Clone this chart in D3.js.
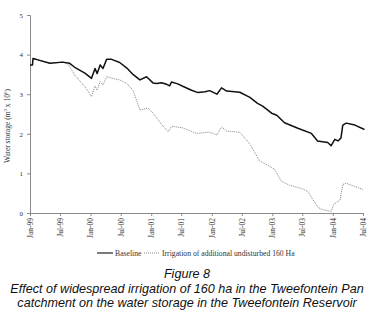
<!DOCTYPE html>
<html>
<head>
<meta charset="utf-8">
<script src="https://cdn.jsdelivr.net/npm/d3@7"></script>
<style>
  body { margin: 0; background: #fff; }
  svg { display: block; }
</style>
</head>
<body>
<div class="figure"></div>
<script>
// water storage (m3 x 10^6)
var baselineDates = ["1999-01-01","1999-01-16","1999-01-19","1999-02-07","1999-05-01","1999-07-16","1999-08-28","1999-09-28","1999-11-28",
    "2000-01-07","2000-01-28","2000-02-10","2000-02-28","2000-03-16","2000-04-07","2000-05-07","2000-06-25","2000-08-07","2000-09-13","2000-10-25","2000-12-04",
    "2001-01-13","2001-02-04","2001-03-04","2001-04-04","2001-04-22","2001-05-04","2001-06-10","2001-07-10","2001-09-01","2001-10-10","2001-11-22","2001-12-19",
    "2002-02-01","2002-03-01","2002-04-01","2002-06-19","2002-08-19","2002-10-04","2002-11-04","2002-12-28",
    "2003-01-28","2003-03-16","2003-06-04","2003-08-25","2003-10-01","2003-12-01","2003-12-22",
    "2004-01-13","2004-02-01","2004-02-19","2004-03-01","2004-03-22","2004-05-13","2004-07-10"]
var baselineValues = [3.74,3.74,3.90,3.88,3.78,3.81,3.78,3.68,3.53,
    3.40,3.65,3.52,3.74,3.65,3.88,3.88,3.80,3.66,3.50,3.36,3.44,
    3.28,3.27,3.29,3.25,3.21,3.31,3.26,3.20,3.10,3.04,3.06,3.09,
    3.00,3.16,3.08,3.05,2.92,2.77,2.70,2.52,
    2.47,2.28,2.14,2.01,1.82,1.78,1.70,
    1.86,1.82,1.89,2.22,2.27,2.22,2.11]

var irrigDates = ["1999-01-01","1999-01-16","1999-01-19","1999-02-07","1999-05-01","1999-07-16","1999-08-19","1999-09-28","1999-11-28",
    "2000-01-07","2000-01-28","2000-02-10","2000-02-28","2000-03-16","2000-04-07","2000-05-13","2000-06-25","2000-08-07","2000-09-13","2000-10-25","2000-12-13",
    "2001-01-13","2001-03-04","2001-04-13","2001-05-04","2001-07-10","2001-10-01","2001-12-19",
    "2002-02-01","2002-03-01","2002-04-01","2002-06-19","2002-08-19","2002-10-16","2002-12-16",
    "2003-01-16","2003-02-25","2003-04-16","2003-06-25","2003-08-04","2003-09-04","2003-10-04","2003-11-04","2003-12-22",
    "2004-01-07","2004-02-13","2004-03-01","2004-03-22","2004-05-13","2004-07-04"]
var irrigValues = [3.74,3.74,3.90,3.88,3.78,3.81,3.76,3.48,3.19,
    2.94,3.21,3.10,3.32,3.23,3.44,3.40,3.36,3.27,3.10,2.60,2.65,
    2.52,2.24,2.05,2.19,2.15,2.01,2.04,
    1.97,2.17,2.07,2.04,1.74,1.32,1.18,
    1.10,0.80,0.70,0.62,0.54,0.33,0.14,0.08,0.04,
    0.22,0.32,0.72,0.75,0.67,0.59]

var xTickLabels = ["Jan-99","Jul-99","Jan-00","Jul-00","Jan-01","Jul-01","Jan-02","Jul-02","Jan-03","Jul-03","Jan-04","Jul-04"]
var yTicks = [0, 1, 2, 3, 4, 5]
var seriesNames = ["Baseline", "Irrigation of additional undisturbed 160 Ha"]

var parseDate = d3.timeParse("%Y-%m-%d"),
    parseTick = d3.timeParse("%b-%y")

var dim = { w: 374, h: 317 }
var plot = { left: 30, right: 363, top: 15, bottom: 213 }

var svg = d3.select("div.figure")
    .append("svg")
    .attr("width", dim.w)
    .attr("height", dim.h)

var xScale = d3.scaleTime()
    .domain([parseTick("Jan-99"), parseTick("Jul-04")])
    .range([plot.left, plot.right])

var yScale = d3.scaleLinear()
    .domain([0, 5])
    .range([plot.bottom, plot.top])

var axisColor = "#8a8a8a"
var serif = "'Liberation Serif', 'DejaVu Serif', serif"

// y axis
var yAxis = d3.axisLeft(yScale)
    .tickValues(yTicks)
    .tickSize(3)
    .tickFormat(d3.format("d"))

var yg = svg.append("g")
    .attr("transform", "translate(" + plot.left + ",0)")
    .call(yAxis)
yg.select(".domain").attr("stroke", axisColor)
yg.selectAll(".tick line").attr("stroke", axisColor)
yg.selectAll(".tick text")
    .attr("x", -7)
    .style("font-family", serif)
    .style("font-size", "7px")
    .attr("fill", "#333")

// x axis
var xAxis = d3.axisBottom(xScale)
    .tickValues(xTickLabels.map(parseTick))
    .tickSize(3)
    .tickFormat(d3.timeFormat("%b-%y"))

var xg = svg.append("g")
    .attr("transform", "translate(0," + plot.bottom + ")")
    .call(xAxis)
xg.select(".domain").attr("stroke", axisColor)
xg.selectAll(".tick line").attr("stroke", axisColor)
xg.selectAll(".tick text")
    .attr("transform", "rotate(-90)")
    .attr("x", -5)
    .attr("y", 0)
    .attr("dy", "0.32em")
    .attr("text-anchor", "end")
    .style("font-family", serif)
    .style("font-size", "7.5px")
    .attr("fill", "#333")

// y axis title
var yTitle = svg.append("text")
    .attr("transform", "translate(10," + 126 + ") rotate(-90)")
    .attr("text-anchor", "middle")
    .style("font-family", serif)
    .style("font-size", "7.5px")
    .attr("fill", "#333")
yTitle.append("tspan").text("Water storage (m")
yTitle.append("tspan").attr("dy", -3).style("font-size", "5px").text("3")
yTitle.append("tspan").attr("dy", 3).text(" x 10")
yTitle.append("tspan").attr("dy", -3).style("font-size", "5px").text("6")
yTitle.append("tspan").attr("dy", 3).text(")")

// lines
var line = d3.line()
    .x(function(d) { return xScale(d.date) })
    .y(function(d) { return yScale(d.value) })

var irrigData = irrigDates.map(function(d, i) { return { date: parseDate(d), value: irrigValues[i] } })
var baselineData = baselineDates.map(function(d, i) { return { date: parseDate(d), value: baselineValues[i] } })

svg.append("path")
    .datum(irrigData)
    .attr("d", line)
    .attr("fill", "none")
    .attr("stroke", "#777")
    .attr("stroke-width", 0.9)
    .attr("stroke-dasharray", "1,1")

svg.append("path")
    .datum(baselineData)
    .attr("d", line)
    .attr("fill", "none")
    .attr("stroke", "#111")
    .attr("stroke-width", 1.5)
    .attr("stroke-linejoin", "round")

// legend
var legend = svg.append("g").attr("transform", "translate(0,253)")
legend.append("line")
    .attr("x1", 97).attr("x2", 113).attr("y1", 0).attr("y2", 0)
    .attr("stroke", "#333").attr("stroke-width", 1.3)
legend.append("text")
    .attr("x", 115).attr("y", 2.5)
    .text(seriesNames[0])
    .style("font-family", serif).style("font-size", "7.7px").attr("fill", "#333")
legend.append("line")
    .attr("x1", 144).attr("x2", 159).attr("y1", 0).attr("y2", 0)
    .attr("stroke", "#777").attr("stroke-width", 0.9).attr("stroke-dasharray", "1,1")
legend.append("text")
    .attr("x", 162).attr("y", 2.5)
    .text(seriesNames[1])
    .style("font-family", serif).style("font-size", "7.7px").attr("fill", "#333")

// caption
var sans = "'Liberation Sans', Arial, sans-serif"
var caption = [
    { text: "Figure 8", y: 278 },
    { text: "Effect of widespread irrigation of 160 ha in the Tweefontein Pan", y: 292.5 },
    { text: "catchment on the water storage in the Tweefontein Reservoir", y: 307 }
]
svg.selectAll("text.caption")
    .data(caption).enter()
    .append("text")
    .attr("class", "caption")
    .attr("x", dim.w / 2)
    .attr("y", function(d) { return d.y })
    .attr("text-anchor", "middle")
    .style("font-family", sans)
    .style("font-style", "italic")
    .style("font-size", "12.6px")
    .attr("fill", "#111")
    .text(function(d) { return d.text })
</script>
</body>
</html>
